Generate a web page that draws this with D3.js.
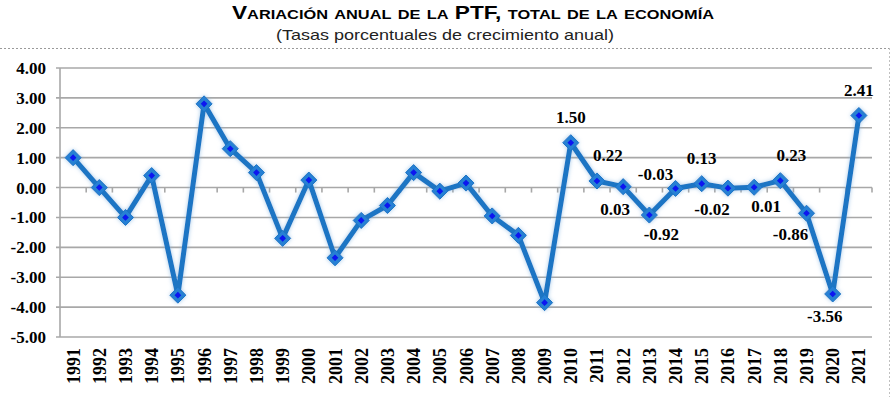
<!DOCTYPE html>
<html>
<head>
<meta charset="utf-8">
<script src="https://cdn.jsdelivr.net/npm/d3@7"></script>
<style>
  body { margin: 0; background: white; }
</style>
</head>
<body>
<script>
//Data
var years = [1991, 1992, 1993, 1994, 1995, 1996, 1997, 1998, 1999, 2000,
    2001, 2002, 2003, 2004, 2005, 2006, 2007, 2008, 2009, 2010,
    2011, 2012, 2013, 2014, 2015, 2016, 2017, 2018, 2019, 2020, 2021];
var ptf = [1.00, 0.00, -1.00, 0.40, -3.60, 2.80, 1.30, 0.50, -1.70, 0.25,
    -2.35, -1.10, -0.60, 0.50, -0.12, 0.15, -0.95, -1.60, -3.85, 1.50,
    0.22, 0.03, -0.92, -0.03, 0.13, -0.02, 0.01, 0.23, -0.86, -3.56, 2.41];
var yTicks = [-5, -4, -3, -2, -1, 0, 1, 2, 3, 4];
//years that carry a value label, and where the label sits
var labelYears = [2010, 2011, 2012, 2013, 2014, 2015, 2016, 2017, 2018, 2019, 2020, 2021];
var labelSide = ["t", "tr", "bl", "br", "tl", "t", "bll", "br", "tr", "bll", "bl", "t"];

//Parameters
var w = 895;
var h = 397;
var lineColor = "#1a74c4";
var gridColor = "#a8a8a8";
var textFont = "'Liberation Serif', 'Times New Roman', serif";

//Excel style numbers with a plain hyphen
var fmt = d3.formatLocale({ decimal: ".", thousands: ",", grouping: [3], currency: ["", ""], minus: "-" }).format(".2f");

var svg = d3.select("body").append("svg")
    .attr("width", w)
    .attr("height", h);

//Title
svg.append("text")
    .attr("x", 473)
    .attr("y", 19)
    .attr("text-anchor", "middle")
    .attr("font-family", "'Liberation Sans', Arial, sans-serif")
    .attr("font-weight", "bold")
    .attr("font-size", 18)
    .style("font-variant", "small-caps")
    .attr("textLength", 482)
    .attr("lengthAdjust", "spacingAndGlyphs")
    .text("Variación anual de la PTF, total de la economía");

svg.append("text")
    .attr("x", 445)
    .attr("y", 40)
    .attr("text-anchor", "middle")
    .attr("font-family", "'Liberation Sans', Arial, sans-serif")
    .attr("font-size", 15)
    .attr("fill", "#222")
    .attr("textLength", 338)
    .attr("lengthAdjust", "spacingAndGlyphs")
    .text("(Tasas porcentuales de crecimiento anual)");

//Dashed frame
svg.append("line")
    .attr("x1", 0).attr("x2", 889)
    .attr("y1", 48.5).attr("y2", 48.5)
    .attr("stroke", "#9a9a9a")
    .attr("stroke-dasharray", "2 2");
svg.append("line")
    .attr("x1", 889.5).attr("x2", 889.5)
    .attr("y1", 48).attr("y2", h)
    .attr("stroke", "#c0c0c0")
    .attr("stroke-dasharray", "2 2");

//Scales
var x = d3.scaleBand()
    .domain(years)
    .range([60, 872]);
var y = d3.scaleLinear()
    .domain([-5, 4])
    .range([337, 68]);
var cx = function (d) { return x(d) + x.bandwidth() / 2; };

//Gridlines
svg.append("g")
    .selectAll("line")
    .data(yTicks)
    .join("line")
    .attr("x1", 56)
    .attr("x2", 872)
    .attr("y1", function (d) { return y(d); })
    .attr("y2", function (d) { return y(d); })
    .attr("stroke", gridColor)
    .attr("stroke-width", 1.6);

//Y axis
svg.append("line")
    .attr("x1", 60).attr("x2", 60)
    .attr("y1", y(4)).attr("y2", y(-5))
    .attr("stroke", gridColor)
    .attr("stroke-width", 1.6);

svg.append("g")
    .selectAll("text")
    .data(yTicks)
    .join("text")
    .attr("x", 46)
    .attr("y", function (d) { return y(d) + 6; })
    .attr("text-anchor", "end")
    .attr("font-family", textFont)
    .attr("font-weight", "bold")
    .attr("font-size", 17)
    .text(function (d) { return fmt(d); });

//Category ticks on the zero line
svg.append("g")
    .selectAll("line")
    .data(years.slice(1).concat(["end"]))
    .join("line")
    .attr("x1", function (d) { return d === "end" ? 872 : x(d); })
    .attr("x2", function (d) { return d === "end" ? 872 : x(d); })
    .attr("y1", y(0))
    .attr("y2", y(0) + 5)
    .attr("stroke", gridColor)
    .attr("stroke-width", 1.6);

//Year labels
svg.append("g")
    .selectAll("text")
    .data(years)
    .join("text")
    .attr("transform", function (d) { return "translate(" + (cx(d) + 6.5) + ",348) rotate(-90)"; })
    .attr("text-anchor", "end")
    .attr("font-family", textFont)
    .attr("font-weight", "bold")
    .attr("font-size", 18)
    .text(function (d) { return d; });

//Glow under line and markers
var defs = svg.append("defs");
var glow = defs.append("filter")
    .attr("id", "glow")
    .attr("x", "-20%").attr("y", "-20%")
    .attr("width", "140%").attr("height", "140%");
glow.append("feGaussianBlur")
    .attr("in", "SourceAlpha")
    .attr("stdDeviation", 2)
    .attr("result", "blur");
glow.append("feFlood")
    .attr("flood-color", "#7fb2e0")
    .attr("flood-opacity", 0.7);
glow.append("feComposite")
    .attr("in2", "blur")
    .attr("operator", "in")
    .attr("result", "shadow");
var merge = glow.append("feMerge");
merge.append("feMergeNode").attr("in", "shadow");
merge.append("feMergeNode").attr("in", "SourceGraphic");

var data = years.map(function (d, i) { return { year: d, v: ptf[i] }; });

var line = d3.line()
    .x(function (d) { return cx(d.year); })
    .y(function (d) { return y(d.v); });

var plot = svg.append("g").attr("filter", "url(#glow)");

plot.append("path")
    .attr("d", line(data))
    .attr("fill", "none")
    .attr("stroke", lineColor)
    .attr("stroke-width", 5)
    .attr("stroke-linejoin", "round");

//Diamond markers
var outer = d3.symbol().type(d3.symbolDiamond2).size(165);
var inner = d3.symbol().type(d3.symbolDiamond2).size(28);

var marks = plot.append("g")
    .selectAll("g")
    .data(data)
    .join("g")
    .attr("transform", function (d) { return "translate(" + cx(d.year) + "," + y(d.v) + ")"; });
marks.append("path")
    .attr("d", outer)
    .attr("fill", "#2580d4")
    .attr("stroke", lineColor)
    .attr("stroke-width", 1);
marks.append("path")
    .attr("d", inner)
    .attr("fill", "#0a14f0");

//Value labels
var offsets = {
    t:   [0, -20],
    tr:  [11, -20],
    tl:  [-20, -8],
    bl:  [-8, 28],
    bll: [-16, 27],
    br:  [12, 25]
};
svg.append("g")
    .selectAll("text")
    .data(labelYears)
    .join("text")
    .attr("x", function (d, i) { return cx(d) + offsets[labelSide[i]][0]; })
    .attr("y", function (d, i) { return y(ptf[years.indexOf(d)]) + offsets[labelSide[i]][1]; })
    .attr("text-anchor", "middle")
    .attr("font-family", textFont)
    .attr("font-weight", "bold")
    .attr("font-size", 17)
    .text(function (d) { return fmt(ptf[years.indexOf(d)]); });
</script>
</body>
</html>
